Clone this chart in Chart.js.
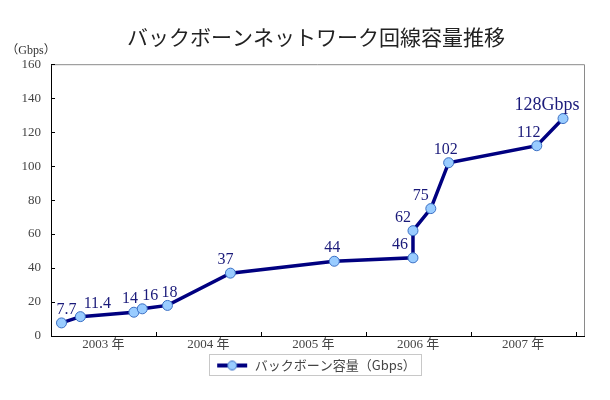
<!DOCTYPE html>
<html>
<head>
<meta charset="utf-8">
<script src="https://cdn.jsdelivr.net/npm/chart.js@4.4.1/dist/chart.umd.min.js"></script>
<style>
  html, body { margin: 0; padding: 0; background: #fff; }
  #wrap { width: 610px; height: 400px; }
</style>
</head>
<body>
<div id="wrap"><canvas id="chart"></canvas></div>
<script>
// Data (x as decimal year)
const pointYears = [2003.10, 2003.28, 2003.79, 2003.87, 2004.11, 2004.71, 2005.70, 2006.45, 2006.45, 2006.62, 2006.79, 2007.63, 2007.88];
const capacity = [7.7, 11.4, 14, 16, 18, 37, 44, 46, 62, 75, 102, 112, 128];
const pointLabels = ['7.7', '11.4', '14', '16', '18', '37', '44', '46', '62', '75', '102', '112', '128Gbps'];
const yearTicks = [2003, 2004, 2005, 2006, 2007, 2008];
const yearLabels = ['2003 年', '2004 年', '2005 年', '2006 年', '2007 年'];
const seriesName = 'バックボーン容量（Gbps）';
const chartTitle = 'バックボーンネットワーク回線容量推移';
const unitLabel = '（Gbps）';

// horizontal nudges for the value labels (style only)
const labelNudge = [5, 17, -4, 8, 2, -5, -2, -13, -10, -10, -3, -8, -16];

const NAVY = '#000080';
const serif = '"Liberation Serif", "Noto Sans CJK JP", serif';
const jp = '"Noto Sans CJK JP", sans-serif';

// legend icon: thick line with a dot in the middle
function makeLegendIcon() {
    const c = document.createElement('canvas');
    c.width = 32; c.height = 12;
    const g = c.getContext('2d');
    g.strokeStyle = NAVY;
    g.lineWidth = 4;
    g.beginPath(); g.moveTo(1, 6); g.lineTo(31, 6); g.stroke();
    g.fillStyle = '#99ccff';
    g.strokeStyle = '#3a6fc4';
    g.lineWidth = 1;
    g.beginPath(); g.arc(16, 6, 4.5, 0, Math.PI * 2); g.fill(); g.stroke();
    return c;
}
const legendIcon = makeLegendIcon();

const framePlugin = {
    id: 'frame',
    afterDraw(chart) {
        const ctx = chart.ctx;
        const a = chart.chartArea;
        const xs = chart.scales.x, ys = chart.scales.y;
        ctx.save();
        // gray top / right border
        ctx.strokeStyle = '#8a8a8a';
        ctx.lineWidth = 1;
        ctx.beginPath();
        ctx.moveTo(a.left, a.top + 0.5); ctx.lineTo(a.right + 0.5, a.top + 0.5);
        ctx.lineTo(a.right + 0.5, a.bottom);
        ctx.stroke();
        // inner tick marks
        ctx.strokeStyle = '#000';
        ctx.beginPath();
        yearTicks.forEach(v => {
            const px = Math.round(xs.getPixelForValue(v)) + 0.5;
            ctx.moveTo(px, a.bottom); ctx.lineTo(px, a.bottom - 4);
        });
        ys.ticks.forEach(t => {
            const py = Math.round(ys.getPixelForValue(t.value)) + 0.5;
            ctx.moveTo(a.left, py); ctx.lineTo(a.left + 4, py);
        });
        ctx.stroke();
        // unit label above the y axis
        ctx.fillStyle = '#333';
        ctx.font = '12px ' + serif;
        ctx.textAlign = 'center';
        ctx.textBaseline = 'middle';
        ctx.fillText(unitLabel, a.left - 20, a.top - 13);
        // legend frame
        const hb = chart.legend.legendHitBoxes[0];
        if (hb) {
            ctx.strokeStyle = '#c8c8c8';
            ctx.strokeRect(Math.round(hb.left) - 6.5, Math.round(hb.top) - 4.5, Math.round(hb.width) + 12, Math.round(hb.height) + 8);
        }
        ctx.restore();
    },
    afterDatasetsDraw(chart) {
        const ctx = chart.ctx;
        const meta = chart.getDatasetMeta(0);
        ctx.save();
        ctx.fillStyle = '#1a1a7a';
        ctx.textAlign = 'center';
        ctx.textBaseline = 'middle';
        meta.data.forEach((pt, i) => {
            const last = i === meta.data.length - 1;
            ctx.font = (last ? '18px ' : '16px ') + serif;
            ctx.fillText(pointLabels[i], pt.x + labelNudge[i], pt.y - 13);
        });
        ctx.restore();
    }
};

new Chart(document.getElementById('chart'), {
    type: 'line',
    data: {
        datasets: [{
            label: seriesName,
            data: pointYears.map((yr, i) => ({ x: yr, y: capacity[i] })),
            borderColor: NAVY,
            borderWidth: 3.5,
            pointRadius: 5,
            pointBackgroundColor: '#99ccff',
            pointBorderColor: '#3a6fc4',
            pointBorderWidth: 1,
            tension: 0
        }]
    },
    options: {
        responsive: true,
        maintainAspectRatio: false,
        animation: false,
        layout: { padding: { left: 22, right: 0, top: 0, bottom: 18 } },
        plugins: {
            title: {
                display: true,
                text: chartTitle,
                color: '#222',
                font: { family: jp, size: 21, weight: 'normal' },
                padding: { top: 24, bottom: 15 }
            },
            legend: {
                position: 'bottom',
                labels: {
                    usePointStyle: true,
                    pointStyleWidth: 32,
                    color: '#444',
                    font: { family: jp, size: 13 },
                    padding: 6,
                    generateLabels: chart => [{
                        text: seriesName,
                        pointStyle: legendIcon,
                        fillStyle: NAVY,
                        strokeStyle: NAVY,
                        lineWidth: 0,
                        fontColor: '#444',
                        datasetIndex: 0
                    }]
                }
            },
            tooltip: { enabled: false }
        },
        scales: {
            x: {
                type: 'linear',
                min: 2003,
                max: 2008.08,
                grid: { display: false, drawTicks: false },
                border: { color: '#000', width: 1 },
                afterBuildTicks: scale => {
                    scale.ticks = yearLabels.map((_, i) => ({ value: yearTicks[i] + 0.5 }));
                },
                ticks: {
                    color: '#444',
                    font: { family: serif, size: 13 },
                    padding: 1,
                    maxRotation: 0,
                    autoSkip: false,
                    callback: (v, i) => yearLabels[i]
                },
                afterFit: scale => { scale.height = 17; }
            },
            y: {
                min: 0,
                max: 160,
                grid: { display: false, drawTicks: false },
                border: { color: '#000', width: 1 },
                ticks: {
                    stepSize: 20,
                    color: '#444',
                    font: { family: serif, size: 13 },
                    padding: 10
                },
                afterFit: scale => { scale.width = 29; }
            },
            yRight: {
                position: 'right',
                min: 0,
                max: 160,
                grid: { display: false, drawTicks: false },
                border: { display: false },
                ticks: { display: false },
                afterFit: scale => { scale.width = 26; }
            }
        }
    },
    plugins: [framePlugin]
});
</script>
</body>
</html>
